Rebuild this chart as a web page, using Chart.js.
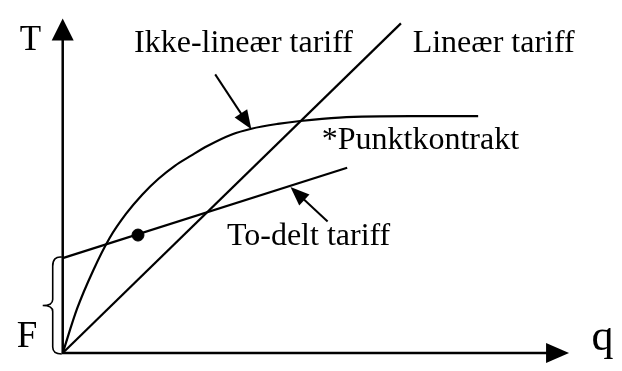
<!DOCTYPE html>
<html>
<head>
<meta charset="utf-8">
<script src="https://cdn.jsdelivr.net/npm/chart.js@4/dist/chart.umd.min.js"></script>
<style>
html,body{margin:0;padding:0;background:#fff;}
#wrap{width:622px;height:371px;}
</style>
</head>
<body>
<div id="wrap"><canvas id="c" width="622" height="371"></canvas></div>
<script>
// Schematic values (arbitrary units, origin at 0,0)
const linearX = [0, 346];
const linearY = [0, 342.5];
const twoPartX = [0, 291];
const twoPartY = [98.5, 192.5];
const nonlinX = [0, 14.7, 31.3, 48, 64.7, 81.3, 98, 114.7, 131.3, 148, 173, 193, 220, 243, 283, 356, 425];
const nonlinY = [0, 46, 86, 119.5, 144.5, 164.5, 181, 194.5, 205, 215, 227, 233, 238, 241, 244.5, 246, 246];
const pointX = [77];
const pointY = [122.5];
const fixedFee = [0, 98.5]; // F range on T axis
const axisEnds = { q: 518, T: 347.5 };

const toXY = (xs, ys) => xs.map((x, i) => ({ x: x, y: ys[i] }));

const annotationArrows = [
  { from: [156, 289.5], to: [193, 232.5] },
  { from: [271, 136.5], to: [233, 172.5] }
];
const labels = [
  { text: 'T', at: [-44, 314.5], size: 35 },
  { text: 'Ikke-lineær tariff', at: [73, 312.5], size: 32 },
  { text: 'Lineær tariff', at: [358, 312.5], size: 32 },
  { text: '*Punktkontrakt', at: [265, 211.5], size: 32 },
  { text: 'To-delt tariff', at: [168, 112.5], size: 32 },
  { text: 'F', at: [-47, 6.5], size: 37 },
  { text: 'q', at: [541, 3.5], size: 44 }
];

function arrowHead(ctx, tx, ty, fx, fy, len, half) {
  const dx = tx - fx, dy = ty - fy;
  const d = Math.hypot(dx, dy);
  const ux = dx / d, uy = dy / d;
  const bx = tx - ux * len, by = ty - uy * len;
  ctx.beginPath();
  ctx.moveTo(tx, ty);
  ctx.lineTo(bx - uy * half, by + ux * half);
  ctx.lineTo(bx + uy * half, by - ux * half);
  ctx.closePath();
  ctx.fill();
}

const diagramPlugin = {
  id: 'diagram',
  afterDatasetsDraw(chart) {
    const ctx = chart.ctx;
    const xs = chart.scales.x, ys = chart.scales.y;
    const px = v => xs.getPixelForValue(v);
    const py = v => ys.getPixelForValue(v);
    ctx.save();
    ctx.strokeStyle = '#000';
    ctx.fillStyle = '#000';
    ctx.lineCap = 'butt';
    // axes
    const ox = px(0), oy = py(0);
    ctx.lineWidth = 2.5;
    ctx.beginPath();
    ctx.moveTo(ox, oy + 1);
    ctx.lineTo(ox, py(axisEnds.T) + 18);
    ctx.moveTo(ox - 1, oy);
    ctx.lineTo(px(axisEnds.q) - 18, oy);
    ctx.stroke();
    arrowHead(ctx, ox, py(axisEnds.T), ox, oy, 22, 11);
    arrowHead(ctx, px(axisEnds.q), oy, ox, oy, 23, 10);
    // annotation arrows
    ctx.lineWidth = 2;
    annotationArrows.forEach(a => {
      const fx = px(a.from[0]), fy = py(a.from[1]);
      const tx = px(a.to[0]), ty = py(a.to[1]);
      const d = Math.hypot(tx - fx, ty - fy);
      const ux = (tx - fx) / d, uy = (ty - fy) / d;
      ctx.beginPath();
      ctx.moveTo(fx, fy);
      ctx.lineTo(tx - ux * 10, ty - uy * 10);
      ctx.stroke();
      arrowHead(ctx, tx, ty, fx, fy, 19, 7.5);
    });
    // brace for F
    const top = py(fixedFee[1]), bot = py(fixedFee[0]);
    const mid = (top + bot) / 2;
    const xr = ox - 1, xv = ox - 10, xt = ox - 20;
    ctx.lineWidth = 1.6;
    ctx.beginPath();
    ctx.moveTo(xr, top - 1);
    ctx.quadraticCurveTo(xv, top - 2, xv, top + 8);
    ctx.lineTo(xv, mid - 6);
    ctx.quadraticCurveTo(xv, mid, xt, mid);
    ctx.quadraticCurveTo(xv, mid, xv, mid + 6);
    ctx.lineTo(xv, bot - 6);
    ctx.quadraticCurveTo(xv, bot + 1, xr, bot + 1);
    ctx.stroke();
    // labels
    ctx.textBaseline = 'alphabetic';
    ctx.textAlign = 'left';
    labels.forEach(l => {
      ctx.font = l.size + 'px "Liberation Serif", "DejaVu Serif", serif';
      ctx.fillText(l.text, px(l.at[0]), py(l.at[1]));
    });
    ctx.restore();
  }
};

new Chart(document.getElementById('c'), {
  type: 'scatter',
  data: {
    datasets: [
      { label: 'Lineær tariff', data: toXY(linearX, linearY), showLine: true,
        borderColor: '#000', borderWidth: 2.2, pointRadius: 0 },
      { label: 'To-delt tariff', data: toXY(twoPartX, twoPartY), showLine: true,
        borderColor: '#000', borderWidth: 2.2, pointRadius: 0 },
      { label: 'Ikke-lineær tariff', data: toXY(nonlinX, nonlinY), showLine: true,
        borderColor: '#000', borderWidth: 2.2, pointRadius: 0,
        cubicInterpolationMode: 'monotone' },
      { label: 'Punktkontrakt', data: toXY(pointX, pointY), showLine: false,
        backgroundColor: '#000', borderColor: '#000', pointRadius: 6 }
    ]
  },
  options: {
    responsive: false,
    animation: false,
    events: [],
    layout: { padding: 0 },
    plugins: { legend: { display: false }, tooltip: { enabled: false }, title: { display: false } },
    scales: {
      x: { type: 'linear', display: false, min: -57, max: 565 },
      y: { type: 'linear', display: false, min: -11.5, max: 359.5 }
    }
  },
  plugins: [diagramPlugin]
});
</script>
</body>
</html>
